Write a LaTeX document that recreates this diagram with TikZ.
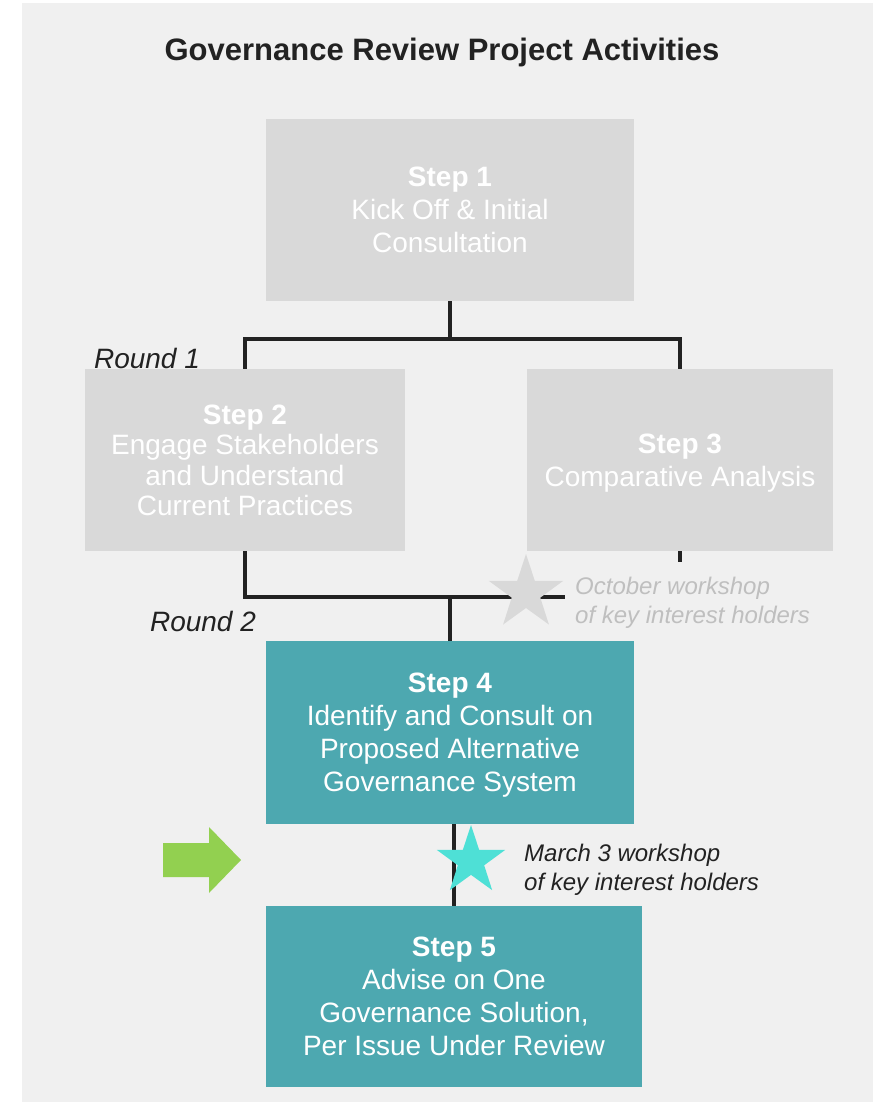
\documentclass[tikz,border=0pt]{standalone}
\usepackage{fontspec}
\setmainfont{Liberation Sans}
\usetikzlibrary{positioning,shapes.geometric}
\definecolor{panelgrey}{RGB}{240,240,240}
\definecolor{boxgrey}{RGB}{217,217,217}
\definecolor{stepteal}{RGB}{77,168,176}
\definecolor{starcyan}{RGB}{78,224,214}
\definecolor{arrowgreen}{RGB}{146,208,80}
\definecolor{notegrey}{RGB}{191,191,191}
\definecolor{inkdark}{RGB}{34,34,34}

\begin{document}
\begin{tikzpicture}[x=1pt, y=-1pt,
    stepbox/.style={minimum height=182, inner sep=0, align=center, text=white,
        text depth=0pt, font=\fontsize{28}{33}\selectfont},
    link/.style={draw=inkdark, line width=3.5pt},
    roundlabel/.style={text=inkdark, font=\fontsize{28}{33}\selectfont\itshape},
    note/.style={anchor=west, align=left, inner sep=0, font=\fontsize{24}{28.5}\selectfont\itshape},
    workstar/.style={star, star points=5, star point ratio=2.6, inner sep=0}]
    \useasboundingbox (0,0) rectangle (884,1102);
    \fill[panelgrey] (22,3) rectangle (873,1102);

    % title
    \node[text=inkdark, font=\fontsize{31}{37}\selectfont\bfseries] (title) at (442,52)
        {Governance Review Project Activities};

    % steps
    \node[stepbox, fill=boxgrey, minimum width=368] (s1) at (450,210)
        {\textbf{Step 1}\\Kick Off \& Initial\\Consultation};
    \node[stepbox, fill=boxgrey, minimum width=320, font=\fontsize{28}{30.5}\selectfont] (s2) at (245,460)
        {\textbf{Step 2}\\Engage Stakeholders\\and Understand\\Current Practices};
    \node[stepbox, fill=boxgrey, minimum width=306] (s3) at (680,460)
        {\textbf{Step 3}\\Comparative Analysis};
    \node[stepbox, fill=stepteal, minimum width=368, minimum height=183] (s4) at (450,732.5)
        {\textbf{Step 4}\\Identify and Consult on\\Proposed Alternative\\Governance System};
    \node[stepbox, fill=stepteal, minimum width=376, minimum height=181] (s5) at (454,996.5)
        {\textbf{Step 5}\\Advise on One\\Governance Solution,\\Per Issue Under Review};

    % round 1 split
    \coordinate (j1) at (450,339);
    \draw[link] (s1.south) -- (j1);
    \draw[link] (s2.north) |- (j1) -| (s3.north);
    \coordinate (s3stub) at (680,562);
    \draw[link] (s3.south) -- (s3stub);

    % round 2 join
    \coordinate (j2) at (450,597);
    \coordinate (j2end) at (565,597);
    \draw[link] (s2.south) |- (j2end);
    \draw[link] (j2) -- (s4.north);
    \draw[link] (s5.north |- s4.south) -- (s5.north);

    \node[roundlabel] (r1) at (147,358) {Round 1};
    \node[roundlabel] (r2) at (203,621) {Round 2};

    % workshops
    \node[workstar, fill=boxgrey, minimum size=78] (octstar) at (526,593) {};
    \node[note, text=notegrey] (octnote) at (575,603)
        {October workshop\\of key interest holders};
    \node[workstar, fill=starcyan, minimum size=72] (marstar) at (471,861) {};
    \node[note, text=inkdark] (marnote) at (524,870)
        {March 3 workshop\\of key interest holders};

    % current position
    \fill[arrowgreen] (163,843) -- (209,843) -- (209,827) -- (241,860)
        -- (209,893) -- (209,877) -- (163,877) -- cycle;
\end{tikzpicture}
\end{document}
